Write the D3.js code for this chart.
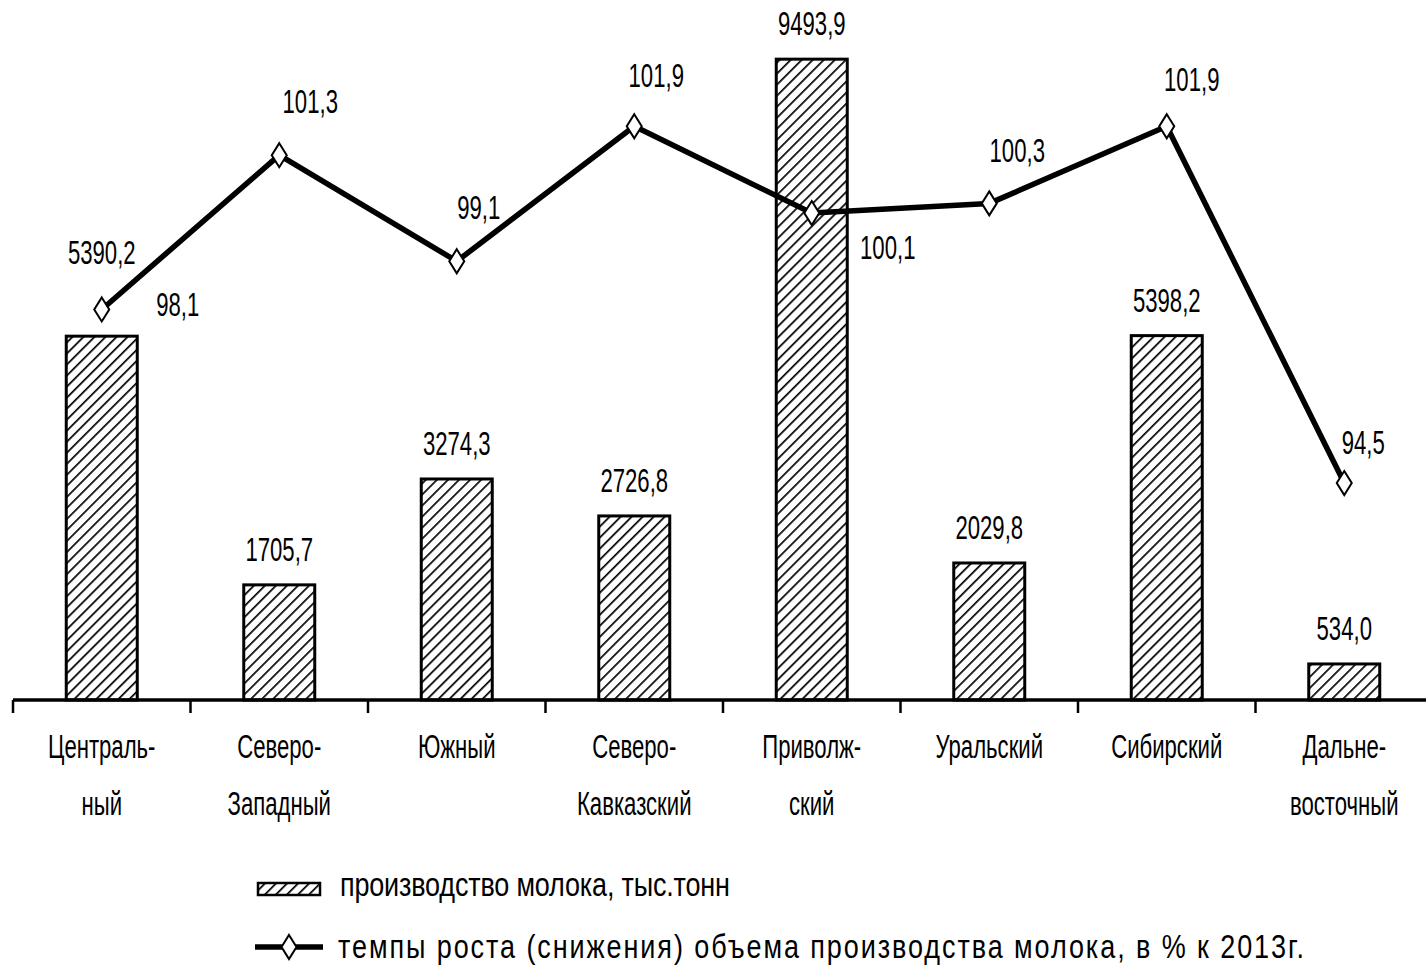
<!DOCTYPE html>
<html>
<head>
<meta charset="utf-8">
<script src="https://cdn.jsdelivr.net/npm/d3@7"></script>
<style>
  html, body { margin: 0; padding: 0; background: #fff; }
  svg text { font-family: 'Liberation Sans', Arial, sans-serif; fill: #000; }
</style>
</head>
<body>
<svg id="chart" width="1426" height="968"></svg>
<script>
const regions = [
  ['Централь-', 'ный'],
  ['Северо-', 'Западный'],
  ['Южный'],
  ['Северо-', 'Кавказский'],
  ['Приволж-', 'ский'],
  ['Уральский'],
  ['Сибирский'],
  ['Дальне-', 'восточный'],
];
const milk = [5390.2, 1705.7, 3274.3, 2726.8, 9493.9, 2029.8, 5398.2, 534.0];
const growth = [98.1, 101.3, 99.1, 101.9, 100.1, 100.3, 101.9, 94.5];
const barLegend = 'производство молока, тыс.тонн';
const lineLegend = 'темпы роста (снижения) объема производства молока, в % к 2013г.';

// manual label placement like in the source (offset of label centre from marker)
const growthLabelNudge = [[76, -4], [31, -53], [22, -53], [22, -50], [76, 35], [28, -52], [25, -46], [19, -40]];

const fmt = (v) => v.toFixed(1).replace('.', ',');
const FONT = 27;
const SX = 0.82, SY = 1.2;

const svg = d3.select('#chart');

const defs = svg.append('defs');
const pat = defs.append('pattern')
  .attr('id', 'hatch')
  .attr('patternUnits', 'userSpaceOnUse')
  .attr('width', 7.8)
  .attr('height', 7.8)
  .attr('patternTransform', 'rotate(45)');
pat.append('rect').attr('width', 7.8).attr('height', 7.8).attr('fill', '#fff');
pat.append('line')
  .attr('x1', 0).attr('y1', 0).attr('x2', 0).attr('y2', 7.8)
  .attr('stroke', '#000').attr('stroke-width', 3.4);

const x = d3.scaleBand().domain(d3.range(regions.length)).range([13, 1433]).paddingInner(0).paddingOuter(0);
const yBar = d3.scaleLinear().domain([0, 10000]).range([700, 25]);
const yLine = d3.scaleLinear().domain([90, 104]).range([700, 25]);

const barW = x.bandwidth() * 0.4;

const addText = (g, tx, ty, str, anchor = 'middle', sx = SX) =>
  g.append('text')
    .attr('transform', `translate(${tx},${ty}) scale(${sx},${SY})`)
    .attr('text-anchor', anchor)
    .style('font-size', FONT + 'px')
    .text(str);

// bars
svg.append('g')
  .selectAll('rect')
  .data(milk)
  .join('rect')
  .attr('x', (d, i) => x(i) + x.bandwidth() / 2 - barW / 2)
  .attr('y', (d) => yBar(d))
  .attr('width', barW)
  .attr('height', (d) => yBar(0) - yBar(d))
  .attr('fill', 'url(#hatch)')
  .attr('stroke', '#000')
  .attr('stroke-width', 3);

// x axis
const axis = svg.append('g').attr('transform', `translate(0,${yBar(0)})`);
axis.call(d3.axisBottom(x).tickSize(0).tickFormat(''));
axis.select('.domain').remove();
axis.append('line')
  .attr('x1', 13).attr('x2', 1426).attr('y1', 0).attr('y2', 0)
  .attr('stroke', '#000').attr('stroke-width', 3.5);
axis.selectAll('.sep')
  .data(d3.range(regions.length + 1))
  .join('line')
  .attr('class', 'sep')
  .attr('x1', (i) => 13 + i * x.step())
  .attr('x2', (i) => 13 + i * x.step())
  .attr('y1', 0).attr('y2', 13)
  .attr('stroke', '#000').attr('stroke-width', 2.5);

const catG = svg.append('g');
regions.forEach((lines, i) => {
  lines.forEach((ln, k) => {
    addText(catG, x(i) + x.bandwidth() / 2, 758 + k * 57, ln);
  });
});

// line series
const cx = (i) => x(i) + x.bandwidth() / 2;
svg.append('path')
  .datum(growth)
  .attr('fill', 'none')
  .attr('stroke', '#000')
  .attr('stroke-width', 5.5)
  .attr('stroke-linejoin', 'round')
  .attr('d', d3.line().x((d, i) => cx(i)).y((d) => yLine(d)));

const diamond = (w, h) => `M0,${-h / 2}L${w / 2},0L0,${h / 2}L${-w / 2},0Z`;

svg.append('g')
  .selectAll('path')
  .data(growth)
  .join('path')
  .attr('d', diamond(15, 24))
  .attr('transform', (d, i) => `translate(${cx(i)},${yLine(d)})`)
  .attr('fill', '#fff')
  .attr('stroke', '#000')
  .attr('stroke-width', 2);

// bar labels
const labG = svg.append('g');
milk.forEach((v, i) => {
  const top = yBar(v);
  let base = top - 24;
  const my = yLine(growth[i]);
  if (my > base - 30 && my < top + 10) base = my - 45;
  addText(labG, cx(i), base, fmt(v));
});

// growth labels
growth.forEach((v, i) => {
  const [dx, dy] = growthLabelNudge[i];
  addText(labG, cx(i) + dx, yLine(v) + dy + 11, fmt(v));
});

// legend (wider glyphs than the labels, second line a bit spread out)
const leg = svg.append('g');
leg.append('rect')
  .attr('x', 258).attr('y', 883).attr('width', 62).attr('height', 12)
  .attr('fill', 'url(#hatch)').attr('stroke', '#000').attr('stroke-width', 2.5);
addText(leg, 340, 896, barLegend, 'start', 1)
  .attr('textLength', 390)
  .attr('lengthAdjust', 'spacing');

leg.append('line')
  .attr('x1', 255).attr('x2', 323).attr('y1', 947).attr('y2', 947)
  .attr('stroke', '#000').attr('stroke-width', 5.5);
leg.append('path')
  .attr('d', diamond(15, 24))
  .attr('transform', 'translate(289,947)')
  .attr('fill', '#fff').attr('stroke', '#000').attr('stroke-width', 2);
addText(leg, 338, 958, lineLegend, 'start', 1)
  .attr('textLength', 966)
  .attr('lengthAdjust', 'spacing');
</script>
</body>
</html>
